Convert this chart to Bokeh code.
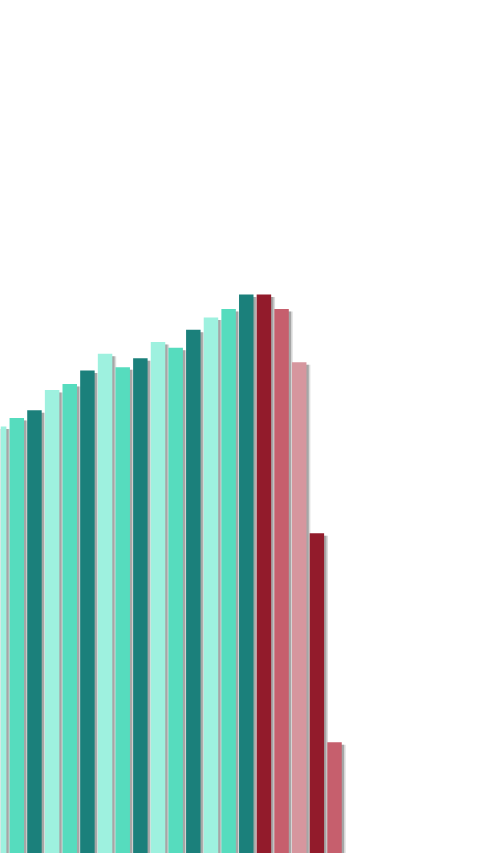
from bokeh.plotting import figure
from bokeh.models import Range1d, ColumnDataSource
from bokeh.embed import file_html
from bokeh.resources import INLINE

# ---- data ----
categories = list(range(20))
values = [76.4, 77.9, 79.3, 82.9, 84.0, 86.4, 89.4, 87.0, 88.6, 91.5,
          90.5, 93.7, 95.9, 97.4, 100.0, 100.0, 97.4, 87.9, 57.3, 19.9]
bar_colors = (["#9ef1df", "#56dcbe", "#1b807b"] * 5
              + ["#921b2b", "#c65f6d", "#d6969e", "#921b2b", "#c65f6d"])

# ---- style ----
BAR_W = 0.82
SHADOW_DX = 0.13
SHADOW_DY = 0.45

src = ColumnDataSource(dict(
    x=categories,
    top=values,
    color=bar_colors,
    sx=[c + SHADOW_DX for c in categories],
    sx2=[c + SHADOW_DX * 1.7 for c in categories],
    stop=[v - SHADOW_DY for v in values],
))

p = figure(width=480, height=853, output_backend="svg", toolbar_location=None,
           x_range=Range1d(0.0765, 27.27), y_range=Range1d(0.0, 152.6),
           min_border=0, min_border_left=0, min_border_right=0,
           min_border_top=0, min_border_bottom=0)
p.xaxis.visible = False
p.yaxis.visible = False
p.grid.visible = False
p.outline_line_color = None
p.background_fill_color = "white"
p.border_fill_color = "white"

# soft outer shadow
p.vbar(x="sx2", top="stop", bottom=-10, width=BAR_W, source=src,
       fill_color="#9a9a9a", fill_alpha=0.35, line_color=None)
# inner shadow
p.vbar(x="sx", top="stop", bottom=-10, width=BAR_W, source=src,
       fill_color="#7a7a7a", fill_alpha=0.55, line_color=None)
# bars
p.vbar(x="x", top="top", bottom=-10, width=BAR_W, source=src,
       fill_color="color", line_color=None)

open("out.html", "w").write(file_html(p, INLINE))
